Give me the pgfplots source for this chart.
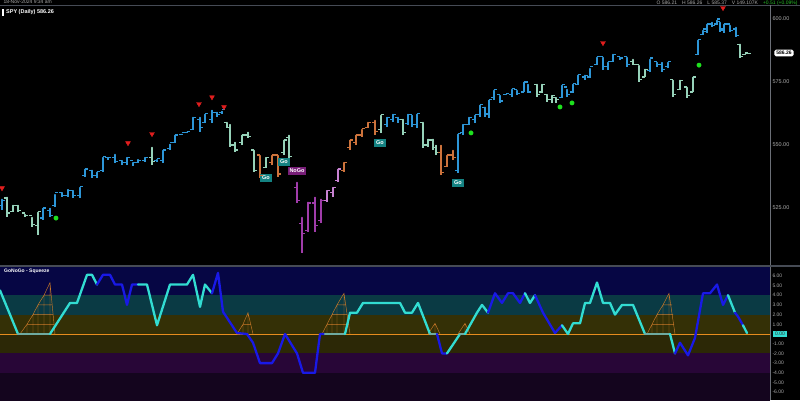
\documentclass[border=0pt]{standalone}
\usepackage{pgfplots}
\pgfplotsset{compat=1.18}
\usepackage{pgfplotstable}
\usepackage{fontspec}
\setmainfont{Liberation Sans}

\definecolor{cBlue}{RGB}{45,150,215}
\definecolor{cPale}{RGB}{150,210,185}
\definecolor{cOrange}{RGB}{205,115,60}
\definecolor{cPurple}{RGB}{160,60,170}
\definecolor{cLPurple}{RGB}{200,130,210}
\definecolor{cRed}{RGB}{225,30,30}
\definecolor{cGreen}{RGB}{30,225,30}
\definecolor{cUp}{RGB}{40,190,40}
\definecolor{cGo}{RGB}{20,130,130}
\definecolor{cNoGo}{RGB}{120,30,120}
\definecolor{cLabel}{RGB}{170,170,170}
\definecolor{cFrame}{RGB}{70,75,85}
\definecolor{cNavy}{RGB}{6,6,68}
\definecolor{cTeal}{RGB}{10,58,68}
\definecolor{cOlive}{RGB}{52,48,6}
\definecolor{cOlive2}{RGB}{44,40,6}
\definecolor{cPurpBand}{RGB}{40,6,55}
\definecolor{cPurpDark}{RGB}{20,5,30}
\definecolor{cCyan}{RGB}{50,220,210}
\definecolor{cDeep}{RGB}{25,25,230}
\definecolor{cSq}{RGB}{110,170,160}
\definecolor{cSqz}{RGB}{200,120,40}
\definecolor{cZero}{RGB}{230,140,30}

% price bars: x (chart position), open, high, low, close
\pgfplotstableread{
x o h l c
2 526 529.4 524.2 528
43 521 525.8 520.2 525
50 524 525.8 521.4 522
55 526 531.3 525.4 531
62 531 532.1 529.4 530
68 530 533.3 529.4 532
73 532 532.9 529.0 530
80 530 534.1 529.0 533.5
85 538 541.3 537.3 540.5
92 540 540.9 536.9 538
97 538 540.1 536.9 539.5
103 540 546.0 539.3 545.5
108 545 546.0 544.0 545
115 545 547.2 542.9 543.5
122 544 544.8 542.1 543
127 543 546.0 542.1 545
133 544 544.0 541.7 543
138 543 545.2 542.9 544
145 544 546.0 543.3 545
157 544 545.2 543.3 544.5
163 544 548.8 542.9 548
170 548.5 551.2 548.0 551
175 551 554.8 550.8 554
182 554.2 555.2 554.0 555
187 555 556.0 554.8 555.5
193 556 561.9 556.0 561
200 560 561.9 555.2 557
205 559 563.1 558.7 562.5
212 560 564.7 558.7 563
217 563 563.9 561.1 562
222 563 564.3 562.3 564
387 558 561.9 557.1 561
393 560 563.1 559.1 562
398 561 561.9 558.7 560
408 558.5 563.1 557.9 562
412 562 562.7 557.1 558
417 558 563.1 556.7 562.5
458 540 555.2 538.9 554.5
463 555 559.1 554.0 558
469 558 561.9 557.9 561
475 560 562.7 558.7 562
480 562 566.7 561.1 566
485 565 565.9 561.1 562.5
489 562 568.7 560.7 568
494 569 572.6 567.9 572
500 570 570.6 566.7 567.5
506 570 571.0 569.8 570.5
512 570 573.0 569.0 572.5
517 572 572.6 569.8 570.5
524 571 575.8 571.0 575
528 575 575.0 570.6 571
562 569 574.6 568.7 574
567 573 573.0 569.0 570
573 571 575.0 570.6 574.5
578 574 578.6 573.8 578
585 577 578.6 575.8 577.5
590 577 581.3 576.6 581
597 582 585.7 581.7 585
603 585 585.7 579.8 581
608 581 583.7 579.8 583
613 583 586.9 582.9 586
620 585 585.7 583.7 584.5
627 585 585.7 581.0 582
650 579.5 584.9 579.0 584.5
657 583 583.7 581.0 582
662 582 583.7 579.0 580
668 581 583.7 580.6 583
698 586 592.5 585.7 592
703 594 596.4 593.7 596
707 595 598.8 594.4 598
712 598 599.6 596.8 597.5
717 598 600.4 597.6 600
720 599 599.6 594.8 595.5
724 596 598.8 594.4 598
730 598 598.4 594.8 595.5
736 596 597.6 592.9 593.5
}\blueBars

\pgfplotstableread{
x o h l c
7 529 530.2 521.4 523
13 523.5 527.0 523.4 526
18 526 527.0 523.4 524
25 523 523.4 521.4 522
32 522 522.2 517.5 518.5
38 518 524.2 514.3 523.5
152 545 550.0 542.1 543.5
227 559 559.9 556.7 557
230 557 559.1 549.2 550
235 550 552.0 547.2 548
242 551 554.8 550.0 554
248 554 556.0 552.8 553.5
254 548 548.8 539.3 540
266 541 546.0 540.9 545
284 547 552.8 546.0 552
289 553 554.8 544.8 545.5
381 556 562.7 554.8 562
403 560 561.1 554.0 555
423 559 559.9 548.8 550
428 550 553.2 549.2 552
433 552 553.2 548.0 549
436 549 550.8 546.0 547
537 574 575.0 569.0 570
542 571 575.0 570.6 574
547 570 571.0 567.1 568
552 568 570.6 566.7 569.5
556 569 569.8 566.7 568
633 583 584.9 581.7 582
639 582 582.5 575.0 576
645 577 581.0 577.0 580
673 576 576.6 569.0 570
680 572 576.6 571.8 575.5
687 573 573.8 568.7 569.5
693 571 577.8 571.0 577
740 590 590.9 584.5 585
745 586 586.9 585.7 586.5
748 586.2 586.9 586.1 586.3
}\paleBars

\pgfplotstableread{
x o h l c
260 546 546.8 536.9 538
272 543 546.8 542.1 546
278 546 546.8 537.3 538.5
344 540 544.0 539.3 543
350 549 552.8 548.0 552
356 551 554.8 550.0 554
362 554 557.1 553.2 556.5
368 557 559.9 556.7 559
375 559 560.7 554.0 555.5
441 547 550.8 538.1 539
447 541.5 546.8 541.3 546
453 546 548.8 544.0 545
}\orangeBars

\pgfplotstableread{
x o h l c
297 533 536.1 527.0 528
302 519 522.2 507.1 515
308 516 528.2 515.5 527
315 527 530.2 515.5 518
321 520 529.4 519.0 528
}\purpleBars

\pgfplotstableread{
x o h l c
327 528 532.9 527.4 532
333 531 534.1 529.4 533
338 536 541.3 535.3 540.5
}\lpurpleBars

\pgfdeclareplotmark{otick}{\pgfpathmoveto{\pgfqpoint{-2.7pt}{0pt}}\pgfpathlineto{\pgfqpoint{0pt}{0pt}}\pgfusepathqstroke}
\pgfdeclareplotmark{ctick}{\pgfpathmoveto{\pgfqpoint{0pt}{0pt}}\pgfpathlineto{\pgfqpoint{2.7pt}{0pt}}\pgfusepathqstroke}

\pgfplotsset{
  hl/.style={only marks, mark=none, error bars/.cd, y dir=minus, y explicit,
    error mark=none, error bar style={line width=1.4pt, color=#1}},
  ot/.style={only marks, mark=otick, mark options={line width=1.2pt, color=#1}},
  ct/.style={only marks, mark=ctick, mark options={line width=1.2pt, color=#1}},
  osc/.style={line width=2.3pt, color=#1, line join=round, line cap=round, mark=none},
}
\newcommand{\ohlc}[2]{%
  \addplot[hl=#2] table[x=x, y=h, y error minus expr=\thisrow{h}-\thisrow{l}] {#1};
  \addplot[ot=#2] table[x=x, y=o] {#1};
  \addplot[ct=#2] table[x=x, y=c] {#1};
}

\begin{document}
\begin{tikzpicture}[x=1pt, y=1pt]
\useasboundingbox (0pt,0pt) rectangle (800pt,400pt);
\clip (0pt,0pt) rectangle (800pt,400pt);
\fill[black] (0pt,0pt) rectangle (800pt,400pt);

% header
\node[anchor=north west, text=cLabel, font=\fontsize{5}{6}\selectfont, inner sep=0.3pt] at (3pt,400pt) {18-Nov-2024 9:34 am};
\node[anchor=north east, text=cLabel, font=\fontsize{5}{6}\selectfont, inner sep=0.3pt] at (798pt,400pt)
  {O\ 586.21\quad H\ 586.26\quad L\ 585.37\quad V\ 149.107K\quad \textcolor{cUp}{+0.51 (+0.09\%)}};
\draw[cFrame, line width=0.8pt] (0pt,394.5pt) -- (800pt,394.5pt);
\draw[cFrame!80, line width=0.8pt] (770.5pt,0pt) -- (770.5pt,394.5pt);
\draw[cFrame, line width=2pt] (0pt,134pt) -- (800pt,134pt);

% price panel
\begin{axis}[
  at={(0pt,135pt)}, anchor=south west,
  width=770pt, height=259pt, scale only axis,
  xmin=0, xmax=770, ymin=502.38, ymax=605.16,
  axis line style={draw=none}, tick style={draw=none},
  xtick=\empty,
  ytick={525,550,575,600},
  yticklabels={525.00,550.00,575.00,600.00},
  yticklabel pos=right,
  yticklabel style={font=\fontsize{5.5}{6}\selectfont, text=cLabel, xshift=-1pt},
]
\ohlc{\blueBars}{cBlue}
\ohlc{\paleBars}{cPale}
\ohlc{\orangeBars}{cOrange}
\ohlc{\purpleBars}{cPurple}
\ohlc{\lpurpleBars}{cLPurple}

\addplot[only marks, mark=triangle*, mark size=2.8pt,
  mark options={rotate=180, fill=cRed, draw=cRed}] coordinates {
  (2,532.9) (128,550.8) (152,554.4) (199,566.3) (212,569.0) (224,565.1) (603,590.5) (723,604.4)};
\addplot[only marks, mark=*, mark size=2.2pt,
  mark options={fill=cGreen, draw=cGreen}] coordinates {
  (56,521.0) (471,554.8) (560,565.1) (572,566.7) (699,581.7)};

\tikzset{badge/.style={text=white, font=\bfseries\fontsize{5.5}{6}\selectfont, inner xsep=2pt, inner ysep=1.8pt}}
\node[badge, fill=cGo] at (axis cs:266,536.9) {Go};
\node[badge, fill=cGo] at (axis cs:284,543.3) {Go};
\node[badge, fill=cNoGo] at (axis cs:297,539.7) {NoGo};
\node[badge, fill=cGo] at (axis cs:380,550.8) {Go};
\node[badge, fill=cGo] at (axis cs:458,534.9) {Go};
\end{axis}

\fill[white] (2pt,384pt) rectangle (4pt,391pt);
\node[anchor=west, text=white, font=\bfseries\fontsize{5.5}{6}\selectfont, inner sep=0pt] at (6pt,387.5pt) {SPY (Daily) 586.26};
\node[fill=white, text=black, rounded corners=1.5pt, font=\bfseries\fontsize{5}{6}\selectfont, inner xsep=2pt, inner ysep=1.5pt] at (784pt,347pt) {586.26};

% oscillator panel
\begin{axis}[
  at={(0pt,0pt)}, anchor=south west,
  width=770pt, height=133pt, scale only axis,
  xmin=0, xmax=770, ymin=-6.804, ymax=6.907,
  axis line style={draw=none}, tick style={draw=none},
  xtick=\empty,
  ytick={-6,-5,-4,-3,-2,-1,1,2,3,4,5,6},
  yticklabels={-6.00,-5.00,-4.00,-3.00,-2.00,-1.00,1.00,2.00,3.00,4.00,5.00,6.00},
  yticklabel pos=right,
  yticklabel style={font=\fontsize{5}{6}\selectfont, text=cLabel, xshift=-1pt},
]
\fill[cNavy] (axis cs:0,4) rectangle (axis cs:770,7);
\fill[cTeal] (axis cs:0,2) rectangle (axis cs:770,4);
\fill[cOlive] (axis cs:0,0) rectangle (axis cs:770,2);
\fill[cOlive2] (axis cs:0,-2) rectangle (axis cs:770,0);
\fill[cPurpBand] (axis cs:0,-4) rectangle (axis cs:770,-2);
\fill[cPurpDark] (axis cs:0,-7) rectangle (axis cs:770,-4);

\addplot[cZero, line width=0.9pt] coordinates {(0,0) (770,0)};

% squeeze ladders
\addplot[cSqz, line width=0.45pt, unbounded coords=jump] coordinates {
  (20,0) (27,1) (33,2) (38,3) (44,4) (50,5.3) (55,0) (20,0) (0,nan)
  (27,0) (27,1) (54,1) (0,nan) (33,0) (33,2) (53,2) (0,nan)
  (38,0) (38,3) (52,3) (0,nan) (44,0) (44,4) (51,4) (0,nan) (50,0) (50,5.3) (0,nan)
  (237,0) (243,1) (248,2.2) (253,0) (0,nan) (243,0) (243,1) (251,1) (0,nan) (248,0) (248,2.2) (0,nan)
  (322,0) (327,1) (332,2) (337,3) (344,4.2) (350,0) (0,nan)
  (327,0) (327,1) (349,1) (0,nan) (332,0) (332,2) (347,2) (0,nan)
  (337,0) (337,3) (346,3) (0,nan) (344,0) (344,4.2) (0,nan)
  (428,0) (435,1.1) (440,0) (0,nan) (435,0) (435,1.1) (0,nan)
  (458,0) (465,1.1) (470,0) (0,nan) (465,0) (465,1.1) (0,nan)
  (647,0) (652,1) (657,2) (663,3) (669,4.2) (675,0) (0,nan)
  (652,0) (652,1) (674,1) (0,nan) (657,0) (657,2) (673,2) (0,nan)
  (663,0) (663,3) (672,3) (0,nan) (669,0) (669,4.2)
};

% GoNoGo oscillator
\addplot[osc=cCyan] coordinates {(0,4.5) (18,0)};
\addplot[osc=cSq] coordinates {(18,0) (50,0)};
\addplot[osc=cCyan] coordinates {(50,0) (70,3.2) (77,3.2) (87,6.1) (92,6.1) (97,5.1)};
\addplot[osc=cDeep] coordinates {(97,5.1) (103,6.1) (110,6.1) (115,5.1) (122,5.1) (127,3.0) (132,5.1) (138,5.1)};
\addplot[osc=cCyan] coordinates {(138,5.1) (147,5.1) (157,0.9) (170,5.1) (187,5.1) (193,6.1) (200,2.8) (205,5.1) (212,4.2)};
\addplot[osc=cDeep] coordinates {(212,4.2) (218,6.3) (223,2.3) (237,0.1) (247,0) (253,-0.9) (260,-3.0) (272,-3.0) (278,-2.0) (285,0) (297,-2.0) (303,-4.0) (315,-4.0) (320,0) (325,0)};
\addplot[osc=cSq] coordinates {(325,0) (345,0)};
\addplot[osc=cCyan] coordinates {(345,0) (350,2.2) (357,2.2) (363,3.2) (400,3.2) (405,2.2) (412,2.2) (418,3.2) (430,0)};
\addplot[osc=cSq] coordinates {(430,0) (437,0)};
\addplot[osc=cDeep] coordinates {(437,0) (442,-2.0) (447,-2.0)};
\addplot[osc=cCyan] coordinates {(447,-2.0) (460,0)};
\addplot[osc=cSq] coordinates {(460,0) (465,0)};
\addplot[osc=cCyan] coordinates {(465,0) (477,2.2) (482,3.0) (488,2.2)};
\addplot[osc=cDeep] coordinates {(488,2.2) (495,4.2) (502,3.2) (508,4.2) (513,4.2) (520,3.2) (525,4.2)};
\addplot[osc=cCyan] coordinates {(525,4.2) (530,3.2) (535,4.0)};
\addplot[osc=cDeep] coordinates {(535,4.0) (543,2.2) (555,0.1) (562,0.9)};
\addplot[osc=cCyan] coordinates {(562,0.9) (568,0) (573,1.1) (580,1.1) (585,3.2) (590,3.2) (597,5.3) (603,3.2) (610,3.2) (615,2.0) (622,3.0) (633,3.0) (645,0)};
\addplot[osc=cSq] coordinates {(645,0) (670,0)};
\addplot[osc=cCyan] coordinates {(670,0) (675,-2.0)};
\addplot[osc=cDeep] coordinates {(675,-2.0) (680,-0.9) (688,-2.2) (695,-0.4) (703,4.2) (710,4.2) (717,5.1) (723,3.0) (728,4.0)};
\addplot[osc=cCyan] coordinates {(728,4.0) (735,2.2)};
\addplot[osc=cDeep] coordinates {(735,2.2) (738,1.8) (743,0.9)};
\addplot[osc=cCyan] coordinates {(743,0.9) (747,0.1)};
\end{axis}

\node[anchor=west, text=white, font=\bfseries\fontsize{5}{6}\selectfont, inner sep=0pt] at (4pt,129pt) {GoNoGo - Squeeze};
\node[fill=cCyan, text=black!80, font=\fontsize{5}{6}\selectfont, inner xsep=2pt, inner ysep=1.5pt] at (780pt,66pt) {0.00};
\end{tikzpicture}
\end{document}
